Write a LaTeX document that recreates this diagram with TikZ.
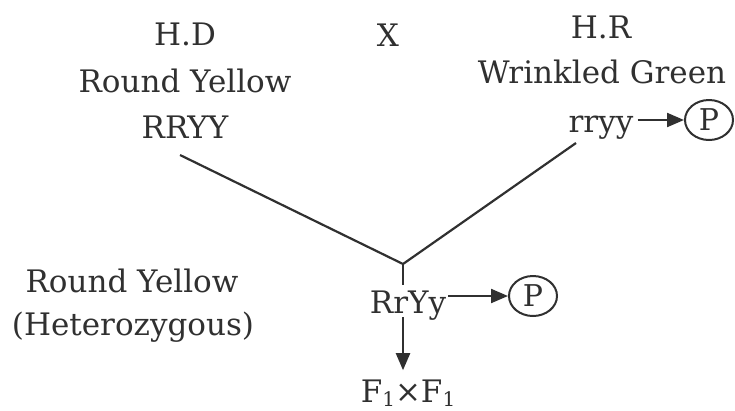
\documentclass[tikz,border=0pt]{standalone}
\usepackage{fontspec}
\setmainfont{DejaVu Serif}
\usetikzlibrary{arrows.meta,shapes.geometric}
\definecolor{ink}{HTML}{303030}
\newcommand{\subone}{{\fontsize{20}{20}\selectfont\raisebox{-4pt}{1}}}
\begin{document}
\begin{tikzpicture}[x=1pt,y=-1pt,
  txt/.style={text=ink, inner sep=0pt, anchor=base, font=\fontsize{31}{37}\selectfont},
  conn/.style={draw=ink, line width=2.2pt},
  arr/.style={conn, -{Triangle[length=17pt,width=14pt]}},
  pcirc/.style={draw=ink, line width=2pt, ellipse, minimum width=48pt, minimum height=40pt,
                inner sep=0pt, text=ink, font=\fontsize{30}{35}\selectfont}]
\useasboundingbox (0,0) rectangle (735,410);

\node[txt] (hd) at (185,45) {H.D};
\node[txt] (ry1) at (185,92) {Round Yellow};
\node[txt] (RRYY) at (185,138) {RRYY};
\node[txt] (x) at (388,46) {X};
\node[txt] (hr) at (601,38) {H.R};
\node[txt] (wg) at (602,83) {Wrinkled Green};
\node[txt] (rryy) at (601,132) {rryy};
\node[pcirc] (p1) at (709,120) {P};
\node[txt] (ry2) at (132,292) {Round Yellow};
\node[txt] (het) at (133,335) {(Heterozygous)};
\node[txt] (RrYy) at (408,313) {RrYy};
\node[pcirc] (p2) at (533,296) {P};
\node[txt] (f1) at (408,402) {F\subone×F\subone};

\coordinate (j) at (403,264);
\coordinate (la) at (180,155);
\coordinate (ra) at (576,143);

\draw[conn] (la) -- (j) -- (ra);
\draw[conn, shorten >=5pt] (j) -- (j |- RrYy.north);
\draw[arr, shorten <=4pt] (rryy.east |- p1.west) -- (p1.west);
\draw[arr, shorten <=2pt] (RrYy.east |- p2.west) -- (p2.west);
\draw[arr, shorten <=-3pt, shorten >=9pt] (RrYy.south -| j) -- (f1.north -| j);
\end{tikzpicture}
\end{document}
